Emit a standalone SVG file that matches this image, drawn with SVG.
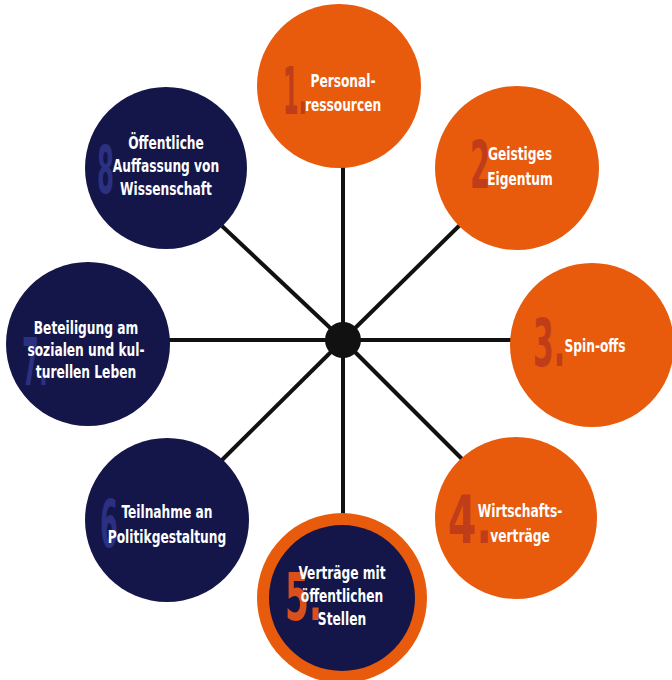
<svg xmlns="http://www.w3.org/2000/svg" width="672" height="680" viewBox="0 0 672 680">
<style>
.or{fill:#E85A0C}
.nv{fill:#14164A}
.t{font-family:"DejaVu Sans Condensed","DejaVu Sans",sans-serif;font-weight:bold;font-size:17px;fill:#FFFFFF;text-anchor:middle}
.n{font-family:"DejaVu Sans Condensed","DejaVu Sans",sans-serif;font-weight:bold;font-size:66px}
.no{fill:#B83A1C;opacity:0.85}
.nn{fill:#2E3388;opacity:0.9}
.n5{fill:#D9501A}
.c{stroke:#111111;stroke-width:4;fill:none}
</style>
<rect width="672" height="680" fill="#FFFFFF"/>
<g id="connectors">
<line class="c" x1="343" y1="340" x2="343" y2="160"/>
<line class="c" x1="343" y1="340" x2="465" y2="220"/>
<line class="c" x1="343" y1="340" x2="515" y2="340"/>
<line class="c" x1="343" y1="340" x2="465" y2="462"/>
<line class="c" x1="343" y1="340" x2="343" y2="520"/>
<line class="c" x1="343" y1="340" x2="222" y2="460"/>
<line class="c" x1="343" y1="340" x2="162" y2="340"/>
<line class="c" x1="343" y1="340" x2="222" y2="226"/>
<circle cx="343" cy="340" r="18" fill="#111111"/>
</g>
<g id="node1">
<circle class="or" cx="339" cy="86" r="82"/>
<text class="n no" x="283" y="114" textLength="24" lengthAdjust="spacingAndGlyphs">1.</text>
<text class="t" transform="translate(343 87) scale(0.8 1)">Personal-</text>
<text class="t" transform="translate(343 111) scale(0.8 1)">ressourcen</text>
</g>
<g id="node2">
<circle class="or" cx="517" cy="168" r="82"/>
<text class="n no" x="470" y="188" textLength="20" lengthAdjust="spacingAndGlyphs">2</text>
<text class="t" transform="translate(520 160) scale(0.8 1)">Geistiges</text>
<text class="t" transform="translate(520 185) scale(0.8 1)">Eigentum</text>
</g>
<g id="node3">
<circle class="or" cx="592" cy="345" r="82"/>
<text class="n no" x="533" y="366" textLength="32" lengthAdjust="spacingAndGlyphs">3.</text>
<text class="t" transform="translate(595 352) scale(0.8 1)">Spin-offs</text>
</g>
<g id="node4">
<circle class="or" cx="516" cy="518" r="81"/>
<text class="n no" x="448" y="543" textLength="44" lengthAdjust="spacingAndGlyphs">4.</text>
<text class="t" transform="translate(520 517) scale(0.8 1)">Wirtschafts-</text>
<text class="t" transform="translate(520 542) scale(0.8 1)">verträge</text>
</g>
<g id="node5">
<circle class="or" cx="342" cy="598" r="85"/>
<circle class="nv" cx="342" cy="598" r="73"/>
<text class="n n5" x="285" y="620" textLength="37" lengthAdjust="spacingAndGlyphs">5.</text>
<text class="t" transform="translate(342 579) scale(0.8 1)">Verträge mit</text>
<text class="t" transform="translate(342 602) scale(0.8 1)">öffentlichen</text>
<text class="t" transform="translate(342 625) scale(0.8 1)">Stellen</text>
</g>
<g id="node6">
<circle class="nv" cx="167" cy="520" r="82"/>
<text class="n nn" x="100" y="547" textLength="18" lengthAdjust="spacingAndGlyphs">6</text>
<text class="t" transform="translate(167 518) scale(0.8 1)">Teilnahme an</text>
<text class="t" transform="translate(167 543) scale(0.8 1)">Politikgestaltung</text>
</g>
<g id="node7">
<circle class="nv" cx="88" cy="344" r="82"/>
<text class="n nn" x="22" y="385" textLength="26" lengthAdjust="spacingAndGlyphs">7.</text>
<text class="t" transform="translate(86 334) scale(0.8 1)">Beteiligung am</text>
<text class="t" transform="translate(86 356) scale(0.8 1)">sozialen und kul-</text>
<text class="t" transform="translate(86 378) scale(0.8 1)">turellen Leben</text>
</g>
<g id="node8">
<circle class="nv" cx="166" cy="168" r="81"/>
<text class="n nn" x="97" y="193" textLength="17" lengthAdjust="spacingAndGlyphs">8</text>
<text class="t" transform="translate(166 149) scale(0.8 1)">Öffentliche</text>
<text class="t" transform="translate(166 172) scale(0.8 1)">Auffassung von</text>
<text class="t" transform="translate(166 195) scale(0.8 1)">Wissenschaft</text>
</g>
</svg>
